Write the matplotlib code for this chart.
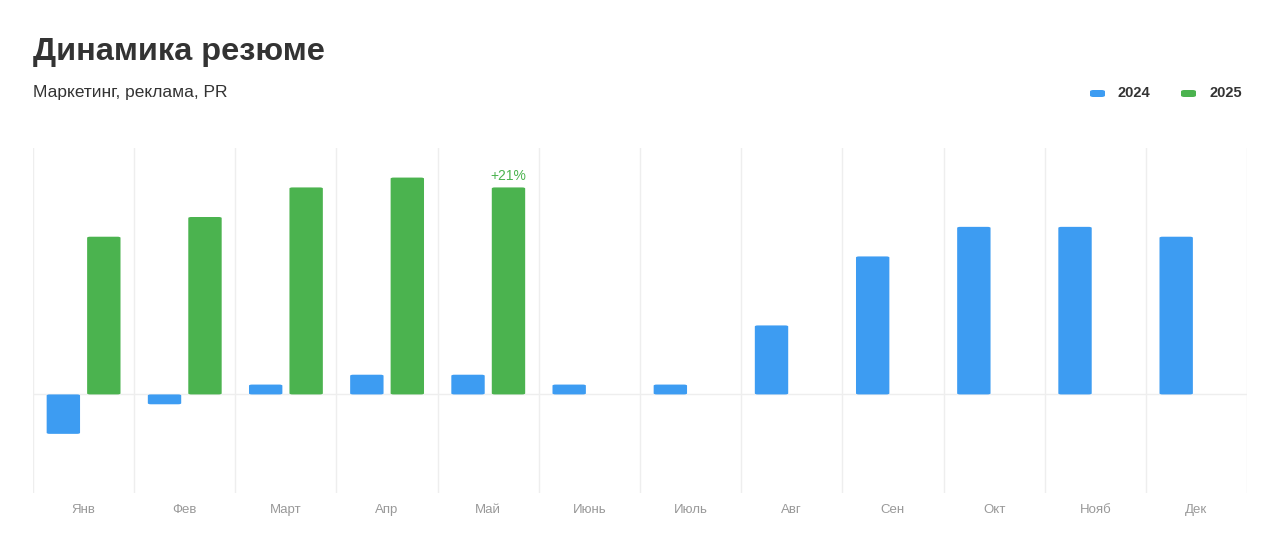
import matplotlib
matplotlib.use("Agg")
import matplotlib.pyplot as plt
from matplotlib.patches import FancyBboxPatch
import numpy as np

plt.rcParams['font.family'] = ['Liberation Sans', 'DejaVu Sans']

# данные
months = ["Янв", "Фев", "Март", "Апр", "Май", "Июнь", "Июль", "Авг", "Сен", "Окт", "Нояб", "Дек"]
vals_2024 = [-4, -1, 1, 2, 2, 1, 1, 7, 14, 17, 17, 16]
vals_2025 = [16, 18, 21, 22, 21]
note_month = 4
note_text = "+21%"

blue = "#3d9cf2"
green = "#4bb34f"

fig = plt.figure(figsize=(12.8, 5.48), dpi=100)
ax = fig.add_axes([33/1280, 55/548, 1214/1280, 345/548])

x = np.arange(len(months))
w = 0.33
off = 0.2


def rounded_bars(xs, vals, color):
    for xi, v in zip(xs, vals):
        y0 = min(0, v)
        h = abs(v)
        p = FancyBboxPatch((xi - w/2, y0), w, h,
                           boxstyle="round,pad=0,rounding_size=0.03",
                           mutation_aspect=3.5,
                           facecolor=color, edgecolor="none", zorder=3)
        ax.add_patch(p)


rounded_bars(x - off, vals_2024, blue)
rounded_bars(x[:len(vals_2025)] + off, vals_2025, green)

ax.text(note_month + off, vals_2025[note_month] + 0.5, note_text, color=green,
        ha="center", va="bottom", fontsize=10)

ax.set_xlim(-0.5, len(months) - 0.5)
ax.set_ylim(-10, 25)
for b in np.arange(-0.5, len(months), 1):
    ax.axvline(b, color="#eeeeee", lw=1, zorder=0)
ax.axhline(0, color="#eeeeee", lw=1, zorder=1)

for s in ax.spines.values():
    s.set_visible(False)
ax.set_yticks([])
ax.set_xticks(x)
ax.set_xticklabels(months, color="#999999", fontsize=9.5)
ax.tick_params(axis="x", length=0, pad=8)

fig.text(33/1280, 1 - 52/548, "Динамика резюме", fontsize=23.4, fontweight="bold",
         color="#333333", va="center", ha="left")
fig.text(33/1280, 1 - 93/548, "Маркетинг, реклама, PR", fontsize=12.5,
         color="#333333", va="center", ha="left")

# легенда
for px, lab, col in [(1090, "2024", blue), (1181, "2025", green)]:
    fig.patches.append(FancyBboxPatch((px/1280, 1 - 97/548), 15/1280, 7/548,
                                      boxstyle="round,pad=0,rounding_size=0.0027",
                                      transform=fig.transFigure, facecolor=col,
                                      edgecolor="none"))
    fig.text((px + 28)/1280, 1 - 93/548, lab, fontsize=10.5, fontweight="bold",
             color="#333333", va="center", ha="left")

plt.savefig("out.png", dpi=100, facecolor="white")
